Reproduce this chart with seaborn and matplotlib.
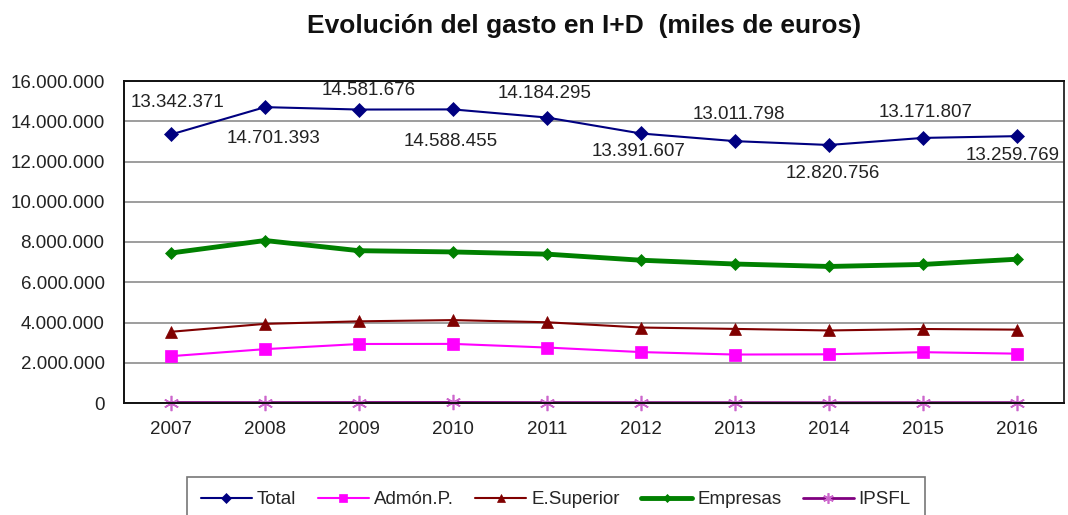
import matplotlib
matplotlib.use("Agg")
import matplotlib.pyplot as plt
import seaborn as sns
import numpy as np

# Gasto en I+D por sector (miles de euros)
years = ["2007", "2008", "2009", "2010", "2011", "2012", "2013", "2014", "2015", "2016"]
total = [13342371, 14701393, 14581676, 14588455, 14184295, 13391607, 13011798, 12820756, 13171807, 13259769]
admon = [2327000, 2676000, 2932000, 2937000, 2756000, 2530000, 2408000, 2420000, 2525000, 2452000]
superior = [3539000, 3932000, 4058000, 4119000, 4012000, 3750000, 3682000, 3604000, 3677000, 3645000]
empresas = [7453923, 8073532, 7567831, 7505995, 7396369, 7094000, 6906000, 6784000, 6885000, 7145000]
ipsfl = [22448, 19861, 23845, 26460, 19926, 17607, 15798, 12756, 15807, 17769]
y_ticks = [0, 2000000, 4000000, 6000000, 8000000, 10000000, 12000000, 14000000, 16000000]

# posición de cada etiqueta respecto a su punto (píxeles)
label_dx = [6, 8, 10, -2, -2, -2, 4, 4, 3, -4]
label_dy = [32, -31, 19, -32, 24, -18, 27, -29, 25, -19]


def fmt(v):
    return f"{v:,.0f}".replace(",", ".")


sns.set_style("white")
plt.rcParams['font.family'] = ['Liberation Sans', 'DejaVu Sans']

fig = plt.figure(figsize=(10.68, 5.15), dpi=100)
ax = fig.add_axes([124 / 1068, 112 / 515, 940 / 1068, 322 / 515])

x = np.arange(len(years))
series = [
    ("Total", total, "#000080", "D", 7, 1.5),
    ("Admón.P.", admon, "#FF00FF", "s", 8, 1.5),
    ("E.Superior", superior, "#800000", "^", 8.5, 1.5),
    ("Empresas", empresas, "#008000", "D", 6, 3.5),
    ("IPSFL", ipsfl, "#800080", (6, 2, 0), 11, 2.0),
]
for name, vals, col, mk, ms, lw in series:
    sns.lineplot(x=x, y=vals, ax=ax, color=col, marker=mk, markersize=ms,
                 linewidth=lw, markeredgecolor=col if name != "IPSFL" else "#CC66CC",
                 markerfacecolor=col, markeredgewidth=1.2 if name == "IPSFL" else 0.5,
                 label=name, clip_on=False)

# etiquetas de la serie Total
for i, v in enumerate(total):
    ax.annotate(fmt(v), (x[i], v), xytext=(label_dx[i] * 0.72, label_dy[i] * 0.72),
                textcoords="offset points", ha="center", va="center",
                fontsize=13.5, color="#222222")

ax.set_xlim(-0.5, len(years) - 0.5)
ax.set_ylim(0, 16000000)
ax.set_yticks(y_ticks)
ax.set_yticklabels([fmt(t) for t in y_ticks], fontsize=13.5, color="#222222")
ax.yaxis.grid(True, color="#8c8c8c", linewidth=1.2)
ax.set_axisbelow(True)

ax.set_xticks(np.arange(-0.5, len(years), 1.0))
ax.set_xticklabels([])
ax.set_xticks(x, minor=True)
ax.set_xticklabels(years, minor=True, fontsize=13.5, color="#222222")
ax.tick_params(axis="x", which="major", direction="out", length=6, width=1.2, color="#222222")
ax.tick_params(axis="x", which="minor", length=0, pad=13)
ax.tick_params(axis="y", direction="out", length=6, width=1.2, color="#222222", pad=8)

for s in ax.spines.values():
    s.set_color("#111111")
    s.set_linewidth(1.4)
ax.spines["right"].set_color("#333333")

fig.text(584 / 1068, 1 - 26 / 515, "Evolución del gasto en I+D  (miles de euros)",
         ha="center", va="center", fontsize=19, fontweight="bold", color="#111111")

handles, labels = ax.get_legend_handles_labels()
ax.get_legend().remove()
leg = fig.legend(handles, labels, loc="upper center", bbox_to_anchor=(556 / 1068, 1 - 477 / 515),
                 ncol=5, fontsize=13.5, frameon=True, fancybox=False, edgecolor="#555555",
                 handlelength=2.7, handletextpad=0.28, columnspacing=1.15, borderpad=0.75,
                 borderaxespad=0, markerscale=0.7)
leg.get_frame().set_linewidth(1.2)

fig.savefig("out.png", dpi=100)
